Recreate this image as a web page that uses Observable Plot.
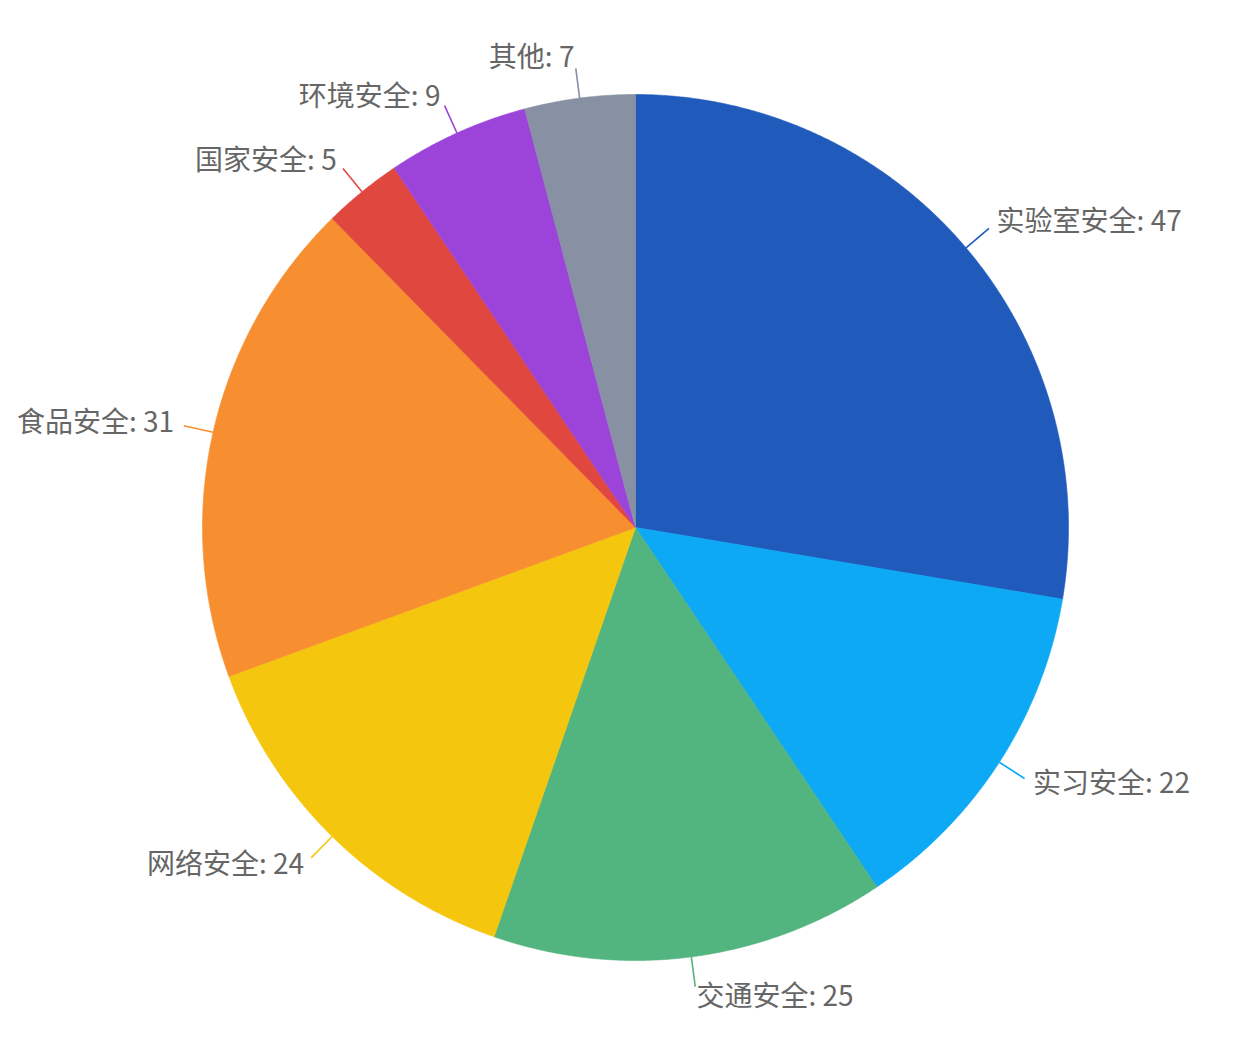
<!DOCTYPE html>
<html>
<head>
<meta charset="utf-8">
<script src="https://cdn.jsdelivr.net/npm/d3@7"></script>
<script src="https://cdn.jsdelivr.net/npm/@observablehq/plot@0.6"></script>
<style>
  html, body { margin: 0; padding: 0; background: #fff; }
</style>
</head>
<body>
<div id="chart"></div>
<script>
const categories = ["实验室安全", "实习安全", "交通安全", "网络安全", "食品安全", "国家安全", "环境安全", "其他"];
const values = [47, 22, 25, 24, 31, 5, 9, 7];
const colors = ["#205bbc", "#0ea9f5", "#52b47f", "#f5c60e", "#f78f30", "#e0473f", "#9c44da", "#8791a3"];

const data = categories.map((name, i) => ({name, value: values[i]}));
const arcs = d3.pie().sort(null).value(d => d.value).startAngle(0).endAngle(2 * Math.PI)(data);

// polygon points for each slice (unit radius, angle clockwise from top)
const slicePts = [];
arcs.forEach(a => {
  const name = a.data.name;
  slicePts.push({name, x: 0, y: 0});
  const n = Math.max(2, Math.ceil((a.endAngle - a.startAngle) / 0.005));
  for (let k = 0; k <= n; k++) {
    const t = a.startAngle + (a.endAngle - a.startAngle) * k / n;
    slicePts.push({name, x: Math.sin(t), y: Math.cos(t)});
  }
  slicePts.push({name, x: 0, y: 0});
});

const R = 433;
const lineIn = 1, lineOut = 463 / R, textR = 473 / R;
const labels = arcs.map(a => {
  const m = (a.startAngle + a.endAngle) / 2;
  return {
    name: a.data.name,
    label: `${a.data.name}: ${a.data.value}`,
    x1: lineIn * Math.sin(m), y1: lineIn * Math.cos(m),
    x2: lineOut * Math.sin(m), y2: lineOut * Math.cos(m),
    tx: textR * Math.sin(m), ty: textR * Math.cos(m),
    right: Math.sin(m) >= 0
  };
});

const chart = Plot.plot({
  width: 1248,
  height: 1040,
  marginLeft: 202,
  marginRight: 180,
  marginTop: 94,
  marginBottom: 80,
  x: {domain: [-1, 1], axis: null},
  y: {domain: [-1, 1], axis: null},
  color: {type: "ordinal", domain: categories, range: colors},
  style: {fontFamily: "'Noto Sans CJK SC', 'Noto Sans', sans-serif", fontSize: "28px", background: "#fff"},
  marks: [
    Plot.line(slicePts, {x: "x", y: "y", z: "name", fill: "name", stroke: "name", strokeWidth: 0.6, curve: "linear"}),
    Plot.link(labels, {x1: "x1", y1: "y1", x2: "x2", y2: "y2", stroke: "name", strokeWidth: 1.6}),
    Plot.text(labels.filter(d => d.right), {x: "tx", y: "ty", text: "label", textAnchor: "start", fill: "#666666", fontSize: 28}),
    Plot.text(labels.filter(d => !d.right), {x: "tx", y: "ty", text: "label", textAnchor: "end", fill: "#666666", fontSize: 28})
  ]
});
document.getElementById("chart").appendChild(chart);
</script>
</body>
</html>
